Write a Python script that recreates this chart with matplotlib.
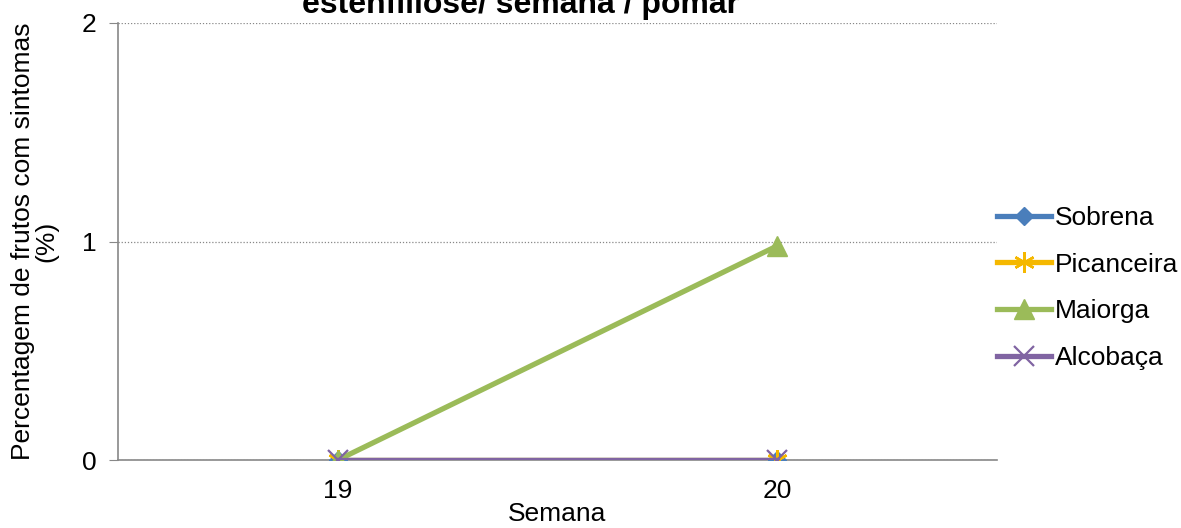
#
# Percentagem de frutos com sintomas de estenfiliose por semana e pomar
#
import numpy as np
import matplotlib.pyplot as plt

plt.rcParams['font.family'] = ['Liberation Sans', 'DejaVu Sans']

# Data
semanas = ["19", "20"]
sobrena = [0, 0]
picanceira = [0, 0]
maiorga = [0, 0.98]
alcobaca = [0, 0]

x = np.arange(len(semanas))

fig = plt.figure(figsize=(11.81, 5.28), dpi=100)
ax = fig.add_axes([118 / 1181, 68 / 528, 879 / 1181, 437 / 528])

ax.plot(x, sobrena, color="#4A7EBB", lw=3.8, marker="D", ms=9, label="Sobrena", zorder=3)
ax.plot(x, picanceira, color="#F5B800", lw=3.8, marker=(6, 2, 0), ms=15, mew=1.8,
        label="Picanceira", zorder=3)
ax.plot(x, maiorga, color="#9BBB59", lw=3.8, marker="^", ms=15, label="Maiorga", zorder=3)
ax.plot(x, alcobaca, color="#8064A2", lw=3.8, marker="x", ms=14, mew=1.6,
        label="Alcobaça", zorder=4)

ax.set_xlim(-0.5, 1.5)
ax.set_ylim(0, 2)
ax.set_xticks(x)
ax.set_xticklabels(semanas)
ax.set_yticks([0, 1, 2])
ax.tick_params(axis="x", length=0, labelsize=19, pad=14)
ax.tick_params(axis="y", length=6.5, color="#888888", labelsize=19, pad=9)
ax.yaxis.grid(True, linestyle=(0, (1, 1.5)), color="#888888", lw=0.9)
ax.set_axisbelow(True)

for side in ["top", "right"]:
    ax.spines[side].set_visible(False)
for side in ["left", "bottom"]:
    ax.spines[side].set_color("#888888")
    ax.spines[side].set_linewidth(1.2)

ax.set_xlabel("Semana", fontsize=19, labelpad=-1)
ax.set_ylabel("Percentagem de frutos com sintomas\n(%)", fontsize=19, labelpad=17,
              linespacing=0.95)

fig.text(520 / 1181, 1 - 13 / 528, "estenfiliose/ semana / pomar", ha="center",
         va="baseline", fontsize=23, fontweight="bold")

ax.legend(loc="center left", bbox_to_anchor=(997 / 1181, 1 - 288 / 528),
          bbox_transform=fig.transFigure, frameon=False, fontsize=19,
          handlelength=2.05, handletextpad=0.15, labelspacing=0.86, borderpad=0,
          borderaxespad=0)

fig.savefig("out.png", dpi=100)
